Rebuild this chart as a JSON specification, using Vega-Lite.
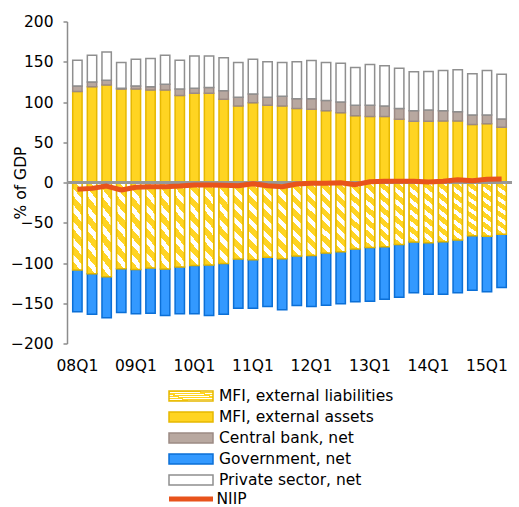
{
  "$schema": "https://vega.github.io/schema/vega-lite/v6.json",
  "width": 445,
  "height": 322,
  "autosize": "none",
  "padding": {"left": 67, "top": 21.5, "right": 7, "bottom": 163.5},
  "config": {
    "view": {"stroke": null},
    "font": "DejaVu Sans",
    "axis": {"labelFont": "DejaVu Sans", "labelFontSize": 15.5, "labelColor": "#000000", "titleFont": "DejaVu Sans", "titleFontSize": 15.5, "titleFontWeight": "normal", "titleColor": "#000000", "grid": false},
    "axisY": {"domainColor": "#8c8c8c", "domainWidth": 1.5, "tickColor": "#8c8c8c", "tickWidth": 1.5, "tickSize": 4, "labelPadding": 10, "titleX": -42, "titleBaseline": "alphabetic"},
    "legend": {"labelFont": "DejaVu Sans", "labelFontSize": 15.5, "labelColor": "#000000", "labelLimit": 400}
  },
  "datasets": {
    "stackOrder": [
      {"series": "MFI, external liabilities", "rank": 1},
      {"series": "MFI, external assets", "rank": 2},
      {"series": "Central bank, net", "rank": 3},
      {"series": "Government, net", "rank": 4},
      {"series": "Private sector, net", "rank": 5}
    ]
  },
  "data": {
    "values": [
      {"q": "08Q1", "MFI, external liabilities": -108.8, "MFI, external assets": 113, "Central bank, net": 7, "Government, net": -51.9, "Private sector, net": 32, "NIIP": -8.5},
      {"q": "08Q2", "MFI, external liabilities": -113.4, "MFI, external assets": 119, "Central bank, net": 6, "Government, net": -50.2, "Private sector, net": 33, "NIIP": -7.3},
      {"q": "08Q3", "MFI, external liabilities": -117.1, "MFI, external assets": 121, "Central bank, net": 6, "Government, net": -50.9, "Private sector, net": 35, "NIIP": -4.4},
      {"q": "08Q4", "MFI, external liabilities": -107.2, "MFI, external assets": 116, "Central bank, net": 1, "Government, net": -54.3, "Private sector, net": 32, "NIIP": -9.3},
      {"q": "09Q1", "MFI, external liabilities": -108, "MFI, external assets": 116, "Central bank, net": 4, "Government, net": -55, "Private sector, net": 33, "NIIP": -6},
      {"q": "09Q2", "MFI, external liabilities": -106.3, "MFI, external assets": 115, "Central bank, net": 4, "Government, net": -56, "Private sector, net": 35, "NIIP": -5.2},
      {"q": "09Q3", "MFI, external liabilities": -107.6, "MFI, external assets": 115, "Central bank, net": 7, "Government, net": -57.6, "Private sector, net": 36, "NIIP": -5.2},
      {"q": "09Q4", "MFI, external liabilities": -105.1, "MFI, external assets": 108, "Central bank, net": 8, "Government, net": -57.9, "Private sector, net": 36, "NIIP": -4.4},
      {"q": "10Q1", "MFI, external liabilities": -103, "MFI, external assets": 111, "Central bank, net": 6, "Government, net": -60, "Private sector, net": 40, "NIIP": -3.1},
      {"q": "10Q2", "MFI, external liabilities": -102.6, "MFI, external assets": 111, "Central bank, net": 7, "Government, net": -62.6, "Private sector, net": 39, "NIIP": -3.1},
      {"q": "10Q3", "MFI, external liabilities": -100.5, "MFI, external assets": 103.5, "Central bank, net": 10.5, "Government, net": -63.1, "Private sector, net": 41, "NIIP": -3.5},
      {"q": "10Q4", "MFI, external liabilities": -95.1, "MFI, external assets": 95, "Central bank, net": 11, "Government, net": -61, "Private sector, net": 43, "NIIP": -4},
      {"q": "11Q1", "MFI, external liabilities": -96, "MFI, external assets": 99, "Central bank, net": 11, "Government, net": -60.1, "Private sector, net": 43, "NIIP": -1.5},
      {"q": "11Q2", "MFI, external liabilities": -93, "MFI, external assets": 96, "Central bank, net": 10, "Government, net": -61, "Private sector, net": 44, "NIIP": -4},
      {"q": "11Q3", "MFI, external liabilities": -94.8, "MFI, external assets": 95, "Central bank, net": 12, "Government, net": -63.4, "Private sector, net": 42, "NIIP": -5.2},
      {"q": "11Q4", "MFI, external liabilities": -91.4, "MFI, external assets": 92, "Central bank, net": 12, "Government, net": -61.4, "Private sector, net": 46, "NIIP": -1.9},
      {"q": "12Q1", "MFI, external liabilities": -90.6, "MFI, external assets": 91, "Central bank, net": 13, "Government, net": -63.4, "Private sector, net": 47.5, "NIIP": -1},
      {"q": "12Q2", "MFI, external liabilities": -87.7, "MFI, external assets": 89, "Central bank, net": 13, "Government, net": -64.7, "Private sector, net": 47, "NIIP": -1},
      {"q": "12Q3", "MFI, external liabilities": -86.1, "MFI, external assets": 86.5, "Central bank, net": 13.5, "Government, net": -64.6, "Private sector, net": 48, "NIIP": -0.2},
      {"q": "12Q4", "MFI, external liabilities": -82.7, "MFI, external assets": 83, "Central bank, net": 13, "Government, net": -65.5, "Private sector, net": 47, "NIIP": -2.7},
      {"q": "13Q1", "MFI, external liabilities": -80.6, "MFI, external assets": 82, "Central bank, net": 14, "Government, net": -66.8, "Private sector, net": 50.5, "NIIP": 1},
      {"q": "13Q2", "MFI, external liabilities": -79.8, "MFI, external assets": 82, "Central bank, net": 13, "Government, net": -65.1, "Private sector, net": 50, "NIIP": 1.5},
      {"q": "13Q3", "MFI, external liabilities": -76.9, "MFI, external assets": 78.6, "Central bank, net": 13.4, "Government, net": -65.5, "Private sector, net": 50, "NIIP": 1.5},
      {"q": "13Q4", "MFI, external liabilities": -74, "MFI, external assets": 76, "Central bank, net": 13, "Government, net": -63.1, "Private sector, net": 48.5, "NIIP": 1.5},
      {"q": "14Q1", "MFI, external liabilities": -74.9, "MFI, external assets": 76, "Central bank, net": 14, "Government, net": -63.8, "Private sector, net": 48, "NIIP": 0.6},
      {"q": "14Q2", "MFI, external liabilities": -73.6, "MFI, external assets": 76.5, "Central bank, net": 12.5, "Government, net": -65.1, "Private sector, net": 50, "NIIP": 1.5},
      {"q": "14Q3", "MFI, external liabilities": -71.5, "MFI, external assets": 76.5, "Central bank, net": 11.5, "Government, net": -65.6, "Private sector, net": 52, "NIIP": 3.5},
      {"q": "14Q4", "MFI, external liabilities": -66.2, "MFI, external assets": 72, "Central bank, net": 12, "Government, net": -67.5, "Private sector, net": 51, "NIIP": 2.2},
      {"q": "15Q1", "MFI, external liabilities": -66.9, "MFI, external assets": 73, "Central bank, net": 11, "Government, net": -68.9, "Private sector, net": 55, "NIIP": 4},
      {"q": "15Q2", "MFI, external liabilities": -64.4, "MFI, external assets": 68.6, "Central bank, net": 10.4, "Government, net": -65.9, "Private sector, net": 55.5, "NIIP": 4.4}
    ]
  },
  "layer": [
    {
      "transform": [
        {"fold": ["MFI, external liabilities", "MFI, external assets", "Central bank, net", "Government, net", "Private sector, net"], "as": ["series", "value"]},
        {"lookup": "series", "from": {"data": {"name": "stackOrder"}, "key": "series", "fields": ["rank"]}}
      ],
      "mark": {"type": "bar", "strokeWidth": 1.5},
      "encoding": {
        "x": {"field": "q", "type": "ordinal", "sort": null, "scale": {"type": "band", "paddingInner": 0.36, "paddingOuter": 0.39},
              "axis": {"values": ["08Q1", "09Q1", "10Q1", "11Q1", "12Q1", "13Q1", "14Q1", "15Q1"], "labelAngle": 0, "ticks": false, "domain": false, "labelPadding": 15, "title": null}},
        "y": {"field": "value", "type": "quantitative", "stack": "zero", "scale": {"domain": [-200, 200], "nice": false}, "title": "% of GDP",
              "axis": {"values": [-200, -150, -100, -50, 0, 50, 100, 150, 200]}},
        "order": {"field": "rank", "type": "quantitative", "sort": "ascending"},
        "fill": {"field": "series", "type": "nominal",
                 "scale": {"domain": ["MFI, external liabilities", "MFI, external assets", "Central bank, net", "Government, net", "Private sector, net"],
                           "range": ["#FFFFFF", "#FFD422", "#B8A8A0", "#3399FF", "#FFFFFF"]},
                 "legend": {"values": ["MFI, external assets", "Central bank, net", "Government, net", "Private sector, net"],
                            "orient": "none", "legendX": 102, "legendY": 384.5, "title": null, "direction": "vertical",
                            "symbolType": "M-2.2,-0.5H2.2V0.5H-2.2Z", "symbolSize": 400, "symbolStrokeWidth": 1.5, "symbolOpacity": 1,
                            "symbolOffset": 11, "labelOffset": 17, "rowPadding": 1}},
        "stroke": {"field": "series", "type": "nominal",
                   "scale": {"domain": ["MFI, external liabilities", "MFI, external assets", "Central bank, net", "Government, net", "Private sector, net"],
                             "range": ["#E6B800", "#E6B800", "#9C8A84", "#0B6FD6", "#8F8F8F"]},
                   "legend": {"values": ["MFI, external assets", "Central bank, net", "Government, net", "Private sector, net"],
                              "orient": "none", "legendX": 102, "legendY": 384.5, "title": null, "direction": "vertical",
                              "symbolType": "M-2.2,-0.5H2.2V0.5H-2.2Z", "symbolSize": 400, "symbolStrokeWidth": 1.5, "symbolOpacity": 1,
                              "symbolOffset": 11, "labelOffset": 17, "rowPadding": 1}}
      }
    },
    {
      "mark": {"type": "bar", "strokeWidth": 1.5,
               "fill": {"gradient": "linear", "x1": 0, "y1": 1, "x2": 0.139, "y2": -0.108, "stops": [
                 {"offset": 0, "color": "#FFD422"}, {"offset": 0.0917, "color": "#FFD422"}, {"offset": 0.0917, "color": "#FFFFFF"}, {"offset": 0.1667, "color": "#FFFFFF"},
                 {"offset": 0.1667, "color": "#FFD422"}, {"offset": 0.2583, "color": "#FFD422"}, {"offset": 0.2583, "color": "#FFFFFF"}, {"offset": 0.3333, "color": "#FFFFFF"},
                 {"offset": 0.3333, "color": "#FFD422"}, {"offset": 0.425, "color": "#FFD422"}, {"offset": 0.425, "color": "#FFFFFF"}, {"offset": 0.5, "color": "#FFFFFF"},
                 {"offset": 0.5, "color": "#FFD422"}, {"offset": 0.5917, "color": "#FFD422"}, {"offset": 0.5917, "color": "#FFFFFF"}, {"offset": 0.6667, "color": "#FFFFFF"},
                 {"offset": 0.6667, "color": "#FFD422"}, {"offset": 0.7583, "color": "#FFD422"}, {"offset": 0.7583, "color": "#FFFFFF"}, {"offset": 0.8333, "color": "#FFFFFF"},
                 {"offset": 0.8333, "color": "#FFD422"}, {"offset": 0.925, "color": "#FFD422"}, {"offset": 0.925, "color": "#FFFFFF"}, {"offset": 1, "color": "#FFFFFF"}]}},
      "encoding": {
        "x": {"field": "q", "type": "ordinal", "sort": null, "scale": {"type": "band", "paddingInner": 0.36, "paddingOuter": 0.39}},
        "y": {"field": "MFI, external liabilities", "type": "quantitative", "scale": {"domain": [-200, 200], "nice": false}, "title": "% of GDP"},
        "stroke": {"datum": "MFI, external liabilities", "type": "nominal", "scale": {"range": ["#E6B800"]},
                   "legend": {"orient": "none", "legendX": 102, "legendY": 363.5, "title": null, "direction": "vertical",
                              "symbolType": "M-2.2,-0.5H2.2V0.5H-2.2Z", "symbolSize": 400, "symbolStrokeWidth": 1.5, "symbolOpacity": 1,
                              "symbolOffset": 11, "labelOffset": 17,
                              "encode": {"symbols": {"fill": {"value": {"gradient": "linear", "x1": 0, "y1": 1, "x2": 1.167, "y2": 0.735, "stops": [
                                {"offset": 0, "color": "#FFD422"}, {"offset": 0.11, "color": "#FFD422"}, {"offset": 0.11, "color": "#FFFFFF"}, {"offset": 0.2, "color": "#FFFFFF"},
                                {"offset": 0.2, "color": "#FFD422"}, {"offset": 0.31, "color": "#FFD422"}, {"offset": 0.31, "color": "#FFFFFF"}, {"offset": 0.4, "color": "#FFFFFF"},
                                {"offset": 0.4, "color": "#FFD422"}, {"offset": 0.51, "color": "#FFD422"}, {"offset": 0.51, "color": "#FFFFFF"}, {"offset": 0.6, "color": "#FFFFFF"},
                                {"offset": 0.6, "color": "#FFD422"}, {"offset": 0.71, "color": "#FFD422"}, {"offset": 0.71, "color": "#FFFFFF"}, {"offset": 0.8, "color": "#FFFFFF"},
                                {"offset": 0.8, "color": "#FFD422"}, {"offset": 0.91, "color": "#FFD422"}, {"offset": 0.91, "color": "#FFFFFF"}, {"offset": 1, "color": "#FFFFFF"}]}}}}}}
      }
    },
    {
      "mark": {"type": "rule", "color": "#999999", "strokeWidth": 1.5},
      "encoding": {
        "y": {"datum": 0, "type": "quantitative", "scale": {"domain": [-200, 200], "nice": false}}
      }
    },
    {
      "mark": {"type": "line", "strokeWidth": 5, "strokeJoin": "round"},
      "encoding": {
        "x": {"field": "q", "type": "ordinal", "sort": null, "scale": {"type": "band", "paddingInner": 0.36, "paddingOuter": 0.39}},
        "y": {"field": "NIIP", "type": "quantitative", "scale": {"domain": [-200, 200], "nice": false}, "title": "% of GDP"},
        "color": {"datum": "NIIP", "type": "nominal", "scale": {"range": ["#E8531B"]},
                  "legend": {"orient": "none", "legendX": 102, "legendY": 453, "title": null,
                             "symbolType": "stroke", "symbolSize": 1936, "symbolStrokeWidth": 5,
                             "symbolOffset": -2.5, "labelOffset": 1}}
      }
    }
  ],
  "resolve": {
    "scale": {"fill": "independent", "stroke": "independent", "color": "independent"},
    "legend": {"fill": "independent", "stroke": "independent", "color": "independent"}
  }
}
